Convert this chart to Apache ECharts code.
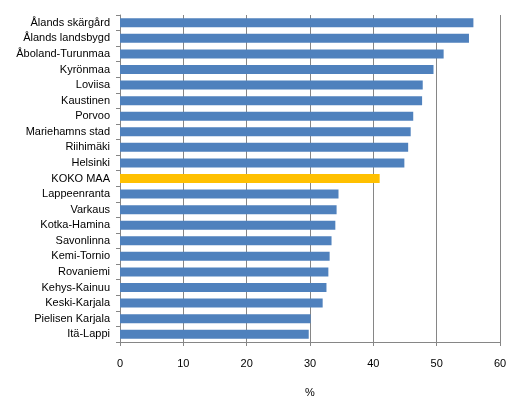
<!DOCTYPE html>
<html><head><meta charset="utf-8">
<script src="https://cdn.jsdelivr.net/npm/echarts@6/dist/echarts.min.js"></script>
<style>html,body{margin:0;padding:0;background:#fff}#c{width:531px;height:410px}</style>
</head><body><div id="c"></div>
<script>
var categories = ["Ålands skärgård","Ålands landsbygd","Åboland-Turunmaa","Kyrönmaa","Loviisa","Kaustinen","Porvoo","Mariehamns stad","Riihimäki","Helsinki","KOKO MAA","Lappeenranta","Varkaus","Kotka-Hamina","Savonlinna","Kemi-Tornio","Rovaniemi","Kehys-Kainuu","Keski-Karjala","Pielisen Karjala","Itä-Lappi"];
var values = [55.8,55.1,51.1,49.5,47.8,47.7,46.3,45.9,45.5,44.9,41.0,34.5,34.2,34.0,33.4,33.1,32.9,32.6,32.0,30.1,29.8];
var highlight = "KOKO MAA";
var xTicks = [0,10,20,30,40,50,60];
var axisName = "%";

var chart = echarts.init(document.getElementById('c'));
chart.setOption({
  animation:false,
  grid:{left:120,right:31,top:15,bottom:68,containLabel:false},
  xAxis:{type:'value',min:xTicks[0],max:xTicks[xTicks.length-1],interval:10,
    name:axisName,nameLocation:'middle',nameGap:45,
    nameTextStyle:{color:'#000',fontSize:11,fontFamily:'Liberation Sans'},
    axisLine:{show:true,lineStyle:{color:'#868686'}},
    axisTick:{show:true,length:4,lineStyle:{color:'#868686'}},
    axisLabel:{color:'#000',fontSize:11,fontFamily:'Liberation Sans',margin:16},
    splitLine:{show:true,lineStyle:{color:'#868686',width:1}}},
  yAxis:{type:'category',data:categories,inverse:true,
    axisLine:{show:true,lineStyle:{color:'#868686'}},
    axisTick:{show:true,length:4,alignWithLabel:false,lineStyle:{color:'#868686'}},
    axisLabel:{color:'#000',fontSize:11,fontFamily:'Liberation Sans',margin:10}},
  series:[{type:'bar',barWidth:'58%',
    data:values.map(function(v,i){return {value:v,itemStyle:{color:categories[i]===highlight?'#FFC000':'#4F81BD'}};})}]
});
</script></body></html>
